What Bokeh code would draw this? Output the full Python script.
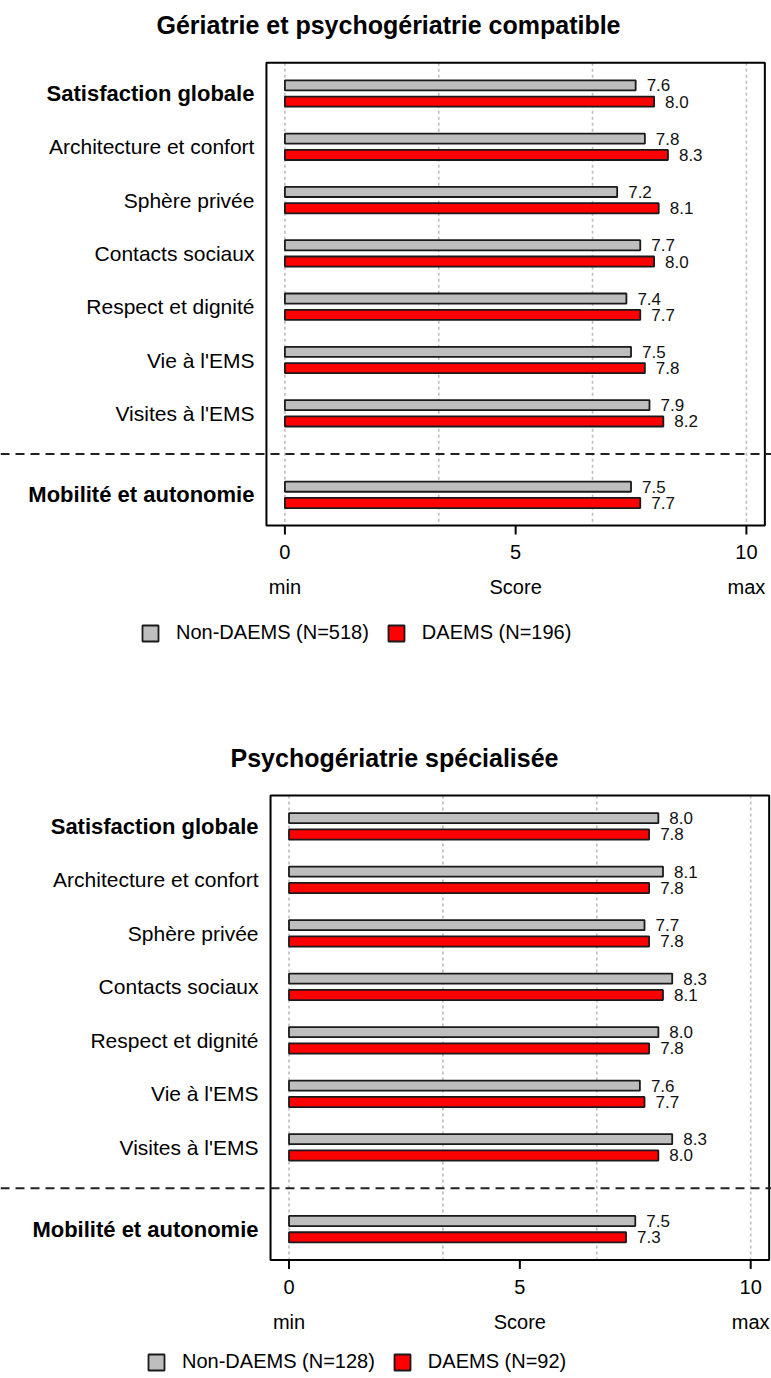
from bokeh.plotting import figure
from bokeh.layouts import column
from bokeh.models import (ColumnDataSource, Range1d, Span, Legend, LegendItem)
from bokeh.core.properties import value
from bokeh.embed import file_html
from bokeh.resources import INLINE

# ---------------- data ----------------
categories = ["Satisfaction globale", "Architecture et confort", "Sphère privée",
              "Contacts sociaux", "Respect et dignité", "Vie à l'EMS",
              "Visites à l'EMS", "Mobilité et autonomie"]
bold_categories = ["Satisfaction globale", "Mobilité et autonomie"]

title_1 = "Gériatrie et psychogériatrie compatible"
non_daems_1 = [7.6, 7.8, 7.2, 7.7, 7.4, 7.5, 7.9, 7.5]
daems_1 = [8.0, 8.3, 8.1, 8.0, 7.7, 7.8, 8.2, 7.7]
legend_1 = ["Non-DAEMS (N=518)", "DAEMS (N=196)"]

title_2 = "Psychogériatrie spécialisée"
non_daems_2 = [8.0, 8.1, 7.7, 8.3, 8.0, 7.6, 8.3, 7.5]
daems_2 = [7.8, 7.8, 7.8, 8.1, 7.8, 7.7, 8.0, 7.3]
legend_2 = ["Non-DAEMS (N=128)", "DAEMS (N=92)"]

x_ticks = [0, 5, 10]
x_tick_words = ["min", "Score", "max"]
grid_ticks = [0, 10 / 3, 20 / 3, 10]
x_box = (-0.4, 10.4)

# ---------------- style / layout ----------------
FONT = "Liberation Sans"
GRAY = "#BEBEBE"
RED = "#FF0000"
EDGE = "#1a1a1a"
W = 771
EXTRA_GAP = 1.53   # extra spacing (in rows) before the last category
BAR_OFF = 0.153    # half distance between the two bars of a group (rows)
BAR_H = 0.19       # bar thickness (rows)
PAD = 0.575        # box padding above first / below last group (rows)


def make_chart(title, v_non, v_daems, leg_labels, H, zero_px, ppu, first_px, row_px,
               title_xy, legend_xy):
    n = len(categories)
    pos = [float(i) for i in range(n - 1)] + [n - 2 + EXTRA_GAP]
    sep = (pos[-2] + pos[-1]) / 2
    box_top = -PAD
    box_bot = pos[-1] + PAD

    def px_y(px):           # figure pixel (from top) -> data y
        return (px - first_px) / row_px

    def px_x(px):           # figure pixel (from left) -> data x
        return (px - zero_px) / ppu

    p = figure(width=W, height=H, output_backend="svg", toolbar_location=None,
               x_range=Range1d(px_x(0), px_x(W)), y_range=Range1d(px_y(H), px_y(0)),
               x_axis_location=None, y_axis_location=None,
               min_border=0, outline_line_color=None)
    p.xgrid.visible = False
    p.ygrid.visible = False
    p.background_fill_color = "white"
    p.border_fill_color = "white"

    # dotted grid lines inside the box
    p.segment(x0=grid_ticks, x1=grid_ticks, y0=[box_top] * len(grid_ticks),
              y1=[box_bot] * len(grid_ticks), line_color="#c0c0c0",
              line_width=1.7, line_dash="3 3")

    src = ColumnDataSource(dict(
        cat=categories,
        y=pos,
        y_non=[y - BAR_OFF for y in pos],
        y_d=[y + BAR_OFF for y in pos],
        non=v_non,
        daems=v_daems,
        lab_non=[f"{v:.1f}" for v in v_non],
        lab_d=[f"{v:.1f}" for v in v_daems],
        fstyle=["bold" if c in bold_categories else "normal" for c in categories],
        fsize=["22px" if c in bold_categories else "21px" for c in categories],
    ))

    r1 = p.hbar(y="y_non", left=0, right="non", height=BAR_H, source=src,
                fill_color=GRAY, line_color=EDGE, line_width=1.8)
    r2 = p.hbar(y="y_d", left=0, right="daems", height=BAR_H, source=src,
                fill_color=RED, line_color=EDGE, line_width=1.8)

    for xf, yf, tf in (("non", "y_non", "lab_non"), ("daems", "y_d", "lab_d")):
        p.text(x=xf, y=yf, text=tf, source=src, x_offset=11,
               text_align="left", text_baseline="middle",
               text_font=value(FONT), text_font_size="17px", text_color="#111")

    # category labels
    p.text(x=x_box[0], y="y", text="cat", source=src, x_offset=-12,
           text_align="right", text_baseline="middle",
           text_font=value(FONT), text_font_size="fsize", text_font_style="fstyle",
           text_color="black")

    # plot box
    p.quad(left=x_box[0], right=x_box[1], top=box_top, bottom=box_bot,
           fill_color=None, line_color="black", line_width=2)

    # dashed separator across the whole width
    p.add_layout(Span(location=sep, dimension="width", line_color="#222222",
                      line_width=2, line_dash="9 6"))

    # x ticks, tick labels, min / Score / max
    tick_len = 9 / row_px
    p.segment(x0=x_ticks, x1=x_ticks, y0=[box_bot] * 3, y1=[box_bot + tick_len] * 3,
              line_color="black", line_width=2)
    tsrc = ColumnDataSource(dict(x=x_ticks, lab=[str(t) for t in x_ticks],
                                 word=x_tick_words))
    p.text(x="x", y=box_bot + 27 / row_px, text="lab", source=tsrc,
           text_align="center", text_baseline="middle",
           text_font=value(FONT), text_font_size="20px", text_color="black")
    p.text(x="x", y=box_bot + 62 / row_px, text="word", source=tsrc,
           text_align="center", text_baseline="middle",
           text_font=value(FONT), text_font_size="20px", text_color="black")

    # title
    p.text(x=[px_x(title_xy[0])], y=[px_y(title_xy[1])], text=[title],
           text_align="center", text_baseline="middle",
           text_font=value(FONT), text_font_size="25px", text_font_style="bold",
           text_color="black")

    legend = Legend(items=[LegendItem(label=leg_labels[0], renderers=[r1]),
                           LegendItem(label=leg_labels[1], renderers=[r2])],
                    orientation="horizontal", location=legend_xy,
                    glyph_width=20, glyph_height=20, label_height=20,
                    label_standoff=16, spacing=17,
                    padding=0, margin=0, border_line_color=None,
                    background_fill_alpha=0, label_text_font=FONT,
                    label_text_font_size="20px", label_text_color="black")
    p.add_layout(legend)
    return p


p1 = make_chart(title_1, non_daems_1, daems_1, legend_1, H=686,
                zero_px=284.4, ppu=46.15, first_px=93, row_px=53.3,
                title_xy=(388, 24), legend_xy=(140, 42))
p2 = make_chart(title_2, non_daems_2, daems_2, legend_2, H=688,
                zero_px=288.5, ppu=46.17, first_px=139.8, row_px=53.5,
                title_xy=(394, 71), legend_xy=(146, 1))

layout = column(p1, p2)
open("out.html", "w").write(file_html(layout, INLINE, title="DAEMS"))
